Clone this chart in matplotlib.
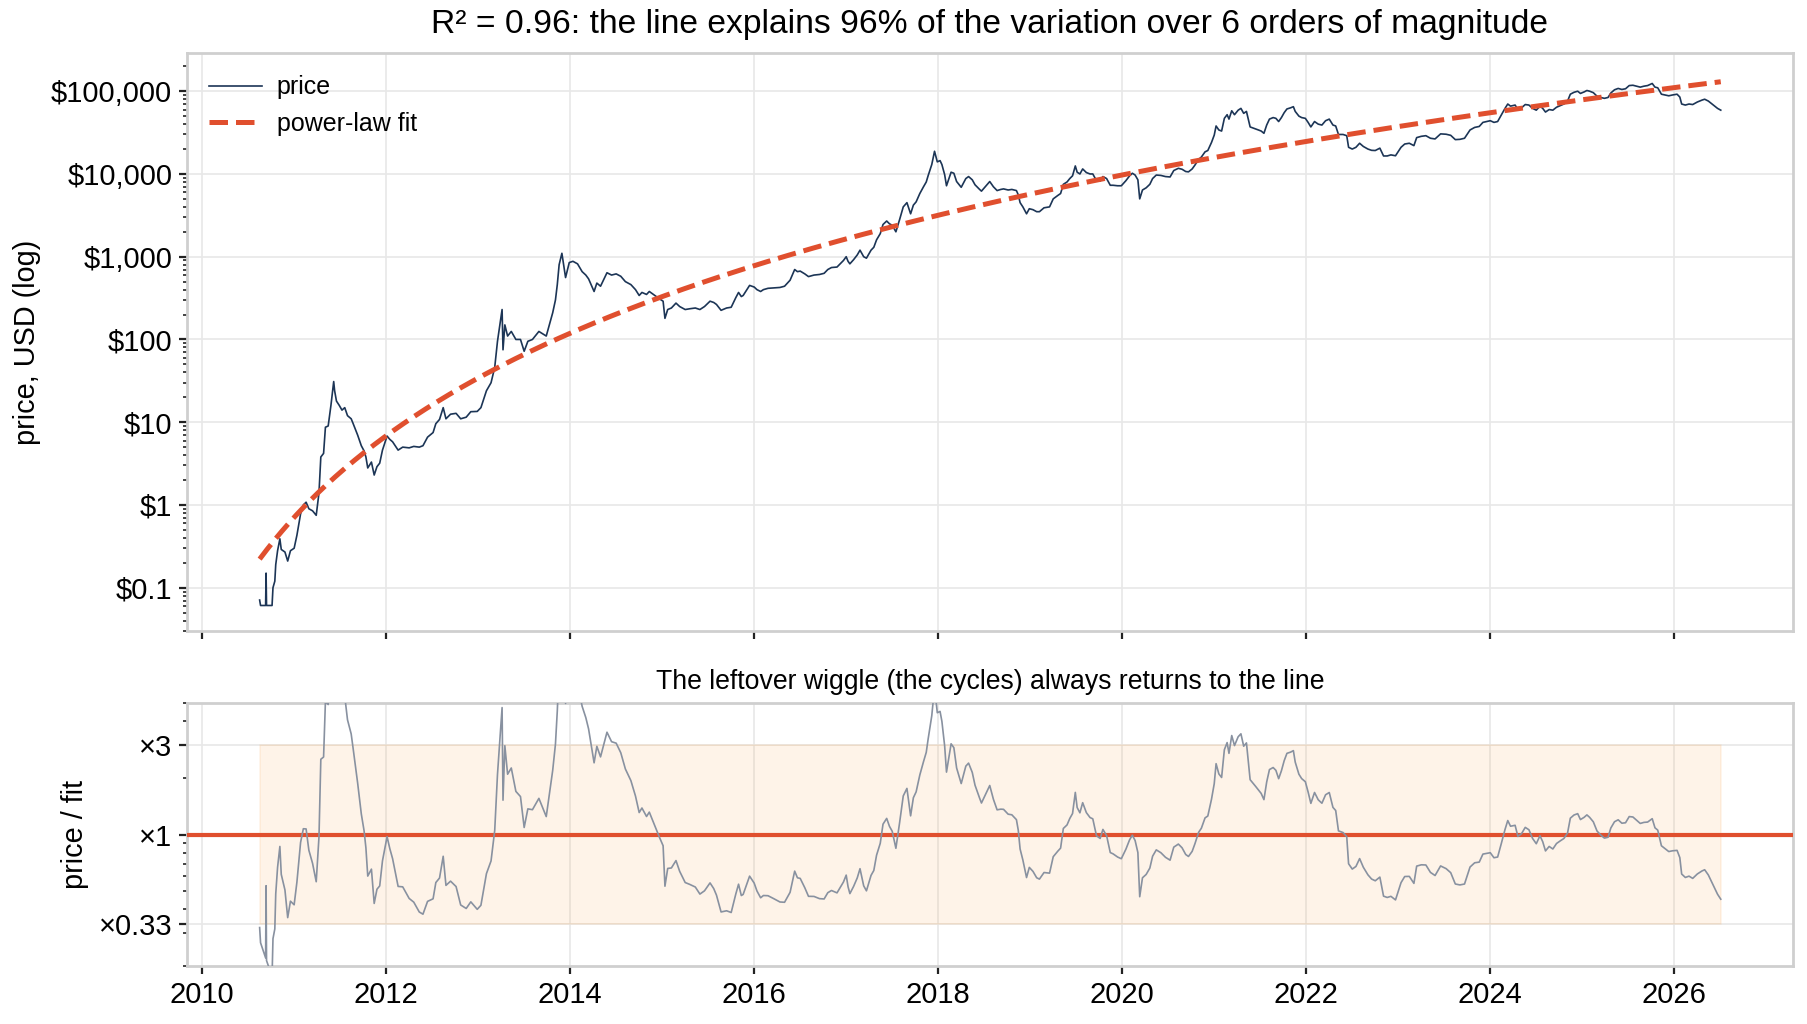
import numpy as np
import matplotlib
matplotlib.use("Agg")
import matplotlib.pyplot as plt
from matplotlib.ticker import FixedLocator, FixedFormatter, LogLocator, NullFormatter, FuncFormatter

plt.rcParams['font.family'] = ['Liberation Sans', 'DejaVu Sans']

# ---------------- data (decimal year, USD close) ----------------
date_yr = [
    2010.625, 2010.635, 2010.69, 2010.695, 2010.70, 2010.76, 2010.77, 2010.79, 2010.80, 2010.82, 2010.845, 2010.86, 2010.90, 2010.93, 2010.96,
    2011.00, 2011.03, 2011.07, 2011.10, 2011.13, 2011.16, 2011.20, 2011.24, 2011.27, 2011.29, 2011.32, 2011.34, 2011.37, 2011.40, 2011.43, 2011.44, 2011.46, 2011.49, 2011.52, 2011.55, 2011.58, 2011.62, 2011.64, 2011.69, 2011.73, 2011.76, 2011.78, 2011.80, 2011.84, 2011.87, 2011.90, 2011.93, 2011.96,
    2012.01, 2012.04, 2012.07, 2012.13, 2012.18, 2012.25, 2012.30, 2012.36, 2012.40, 2012.45, 2012.51, 2012.54, 2012.58, 2012.62, 2012.65, 2012.70, 2012.76, 2012.81, 2012.87, 2012.92, 2012.99,
    2013.03, 2013.09, 2013.14, 2013.18, 2013.21, 2013.24, 2013.26, 2013.27, 2013.29, 2013.32, 2013.36, 2013.41, 2013.46, 2013.50, 2013.54, 2013.59, 2013.66, 2013.74, 2013.77, 2013.81, 2013.84, 2013.86, 2013.88, 2013.91, 2013.93, 2013.95, 2013.99,
    2014.03, 2014.08, 2014.13, 2014.17, 2014.20, 2014.26, 2014.29, 2014.33, 2014.40, 2014.45, 2014.50, 2014.55, 2014.60, 2014.66, 2014.71, 2014.75, 2014.78, 2014.83, 2014.86, 2014.92, 2014.97,
    2015.01, 2015.03, 2015.06, 2015.10, 2015.15, 2015.19, 2015.25, 2015.30, 2015.36, 2015.41, 2015.46, 2015.52, 2015.56, 2015.59, 2015.64, 2015.70, 2015.75, 2015.80, 2015.83, 2015.86, 2015.88, 2015.92, 2015.95,
    2016.00, 2016.03, 2016.07, 2016.10, 2016.15, 2016.21, 2016.28, 2016.33, 2016.39, 2016.44, 2016.47, 2016.50, 2016.55, 2016.59, 2016.65, 2016.71, 2016.76, 2016.80, 2016.84, 2016.90, 2016.97,
    2017.00, 2017.02, 2017.04, 2017.08, 2017.12, 2017.15, 2017.19, 2017.22, 2017.27, 2017.30, 2017.33, 2017.37, 2017.40, 2017.44, 2017.47, 2017.50, 2017.54, 2017.58, 2017.62, 2017.66, 2017.70, 2017.73, 2017.76, 2017.80, 2017.84, 2017.87, 2017.89, 2017.93, 2017.96, 2017.99,
    2018.02, 2018.04, 2018.07, 2018.09, 2018.14, 2018.17, 2018.20, 2018.25, 2018.30, 2018.33, 2018.37, 2018.40, 2018.45, 2018.47, 2018.53, 2018.56, 2018.60, 2018.64, 2018.68, 2018.71, 2018.76, 2018.80, 2018.85, 2018.87, 2018.89, 2018.92, 2018.96, 2018.99,
    2019.03, 2019.07, 2019.10, 2019.15, 2019.21, 2019.25, 2019.30, 2019.33, 2019.36, 2019.40, 2019.43, 2019.46, 2019.49, 2019.51, 2019.54, 2019.57, 2019.61, 2019.65, 2019.68, 2019.72, 2019.76, 2019.79, 2019.83, 2019.87, 2019.90, 2019.95, 2019.99,
    2020.04, 2020.08, 2020.11, 2020.14, 2020.17, 2020.19, 2020.22, 2020.26, 2020.30, 2020.33, 2020.37, 2020.42, 2020.47, 2020.52, 2020.56, 2020.61, 2020.65, 2020.69, 2020.72, 2020.76, 2020.79, 2020.83, 2020.86, 2020.90, 2020.93, 2020.97,
    2021.00, 2021.02, 2021.05, 2021.08, 2021.11, 2021.14, 2021.16, 2021.19, 2021.22, 2021.26, 2021.29, 2021.32, 2021.35, 2021.37, 2021.39, 2021.42, 2021.45, 2021.48, 2021.51, 2021.54, 2021.57, 2021.60, 2021.64, 2021.67, 2021.70, 2021.73, 2021.76, 2021.79, 2021.83, 2021.86, 2021.88, 2021.92, 2021.95, 2021.99,
    2022.02, 2022.05, 2022.09, 2022.13, 2022.17, 2022.21, 2022.25, 2022.29, 2022.32, 2022.35, 2022.40, 2022.44, 2022.46, 2022.50, 2022.54, 2022.58, 2022.62, 2022.67, 2022.71, 2022.75, 2022.80, 2022.84, 2022.88, 2022.92, 2022.97,
    2023.03, 2023.07, 2023.12, 2023.17, 2023.20, 2023.25, 2023.30, 2023.35, 2023.40, 2023.46, 2023.52, 2023.57, 2023.62, 2023.67, 2023.72, 2023.78, 2023.83, 2023.88, 2023.92, 2023.96,
    2024.00, 2024.04, 2024.08, 2024.12, 2024.16, 2024.19, 2024.22, 2024.27, 2024.30, 2024.34, 2024.38, 2024.42, 2024.46, 2024.50, 2024.54, 2024.57, 2024.60, 2024.64, 2024.68, 2024.72, 2024.76, 2024.80, 2024.84, 2024.87, 2024.91, 2024.95, 2024.98,
    2025.02, 2025.05, 2025.08, 2025.12, 2025.16, 2025.20, 2025.24, 2025.28, 2025.31, 2025.35, 2025.39, 2025.43, 2025.47, 2025.51, 2025.55, 2025.59, 2025.63, 2025.67, 2025.71, 2025.76, 2025.79, 2025.82, 2025.86, 2025.90, 2025.94, 2025.98,
    2026.03, 2026.06, 2026.08, 2026.12, 2026.16, 2026.20, 2026.25, 2026.30, 2026.33, 2026.37, 2026.41, 2026.44, 2026.47, 2026.505,
]
price_usd = [
    0.071, 0.061, 0.061, 0.15, 0.061, 0.061, 0.10, 0.12, 0.19, 0.28, 0.39, 0.29, 0.27, 0.21, 0.28,
    0.30, 0.43, 0.78, 1.0, 1.08, 0.9, 0.85, 0.75, 1.4, 3.8, 4.2, 8.7, 9.0, 16, 31, 24, 18, 16, 14, 15, 12, 11, 9.7, 7.0, 5.2, 4.5, 3.8, 2.8, 3.3, 2.3, 2.9, 3.2, 4.6,
    6.8, 6.2, 5.8, 4.6, 5.0, 4.9, 5.1, 5.0, 5.2, 6.6, 7.5, 9.6, 10.8, 15, 11, 12.5, 12.8, 11, 11.5, 13.4, 13.5,
    15, 24, 30, 46, 95, 160, 230, 75, 150, 110, 125, 100, 100, 72, 95, 100, 125, 110, 145, 210, 300, 460, 800, 1100, 780, 560, 850,
    880, 820, 660, 600, 540, 380, 480, 440, 640, 600, 620, 580, 500, 460, 400, 340, 370, 350, 380, 340, 310,
    290, 180, 230, 240, 275, 250, 230, 235, 240, 230, 250, 290, 280, 265, 225, 240, 245, 320, 370, 330, 340, 400, 450,
    430, 400, 380, 400, 415, 420, 425, 440, 520, 700, 660, 670, 620, 575, 600, 610, 630, 700, 740, 750, 900,
    1000, 880, 820, 920, 1050, 1200, 1000, 960, 1200, 1300, 1600, 1900, 2450, 2700, 2500, 2400, 2000, 2800, 4000, 4500, 3300, 4200, 4600, 5800, 7000, 8000, 9500, 13000, 18800, 14000,
    14500, 13000, 9800, 7200, 10500, 10200, 8100, 6900, 8800, 9300, 8500, 7400, 6500, 6200, 7400, 8100, 7000, 6300, 6500, 6600, 6400, 6500, 6300, 5600, 4500, 4000, 3300, 3800,
    3700, 3500, 3500, 3900, 4000, 5000, 5500, 5800, 7500, 8000, 8800, 9500, 12500, 10500, 10000, 11500, 10400, 10000, 10000, 8300, 8200, 9300, 8800, 7300, 7300, 7200, 7200,
    8300, 9500, 10200, 9700, 8500, 5000, 6400, 6800, 7500, 8800, 9700, 9600, 9300, 9200, 11000, 11700, 11400, 10700, 10600, 11500, 12800, 15000, 16000, 18500, 19200, 24000,
    29500, 38000, 34000, 33000, 47000, 52000, 46000, 58000, 52000, 59000, 62000, 54000, 57000, 46000, 37000, 36000, 35000, 34000, 33000, 31000, 39000, 46000, 48000, 47000, 43000, 48000, 55000, 61000, 63000, 65000, 57000, 50000, 48000, 47000,
    42000, 37000, 43000, 40000, 39000, 44000, 46000, 39000, 38000, 30000, 30000, 29000, 21000, 20000, 21000, 23500, 21500, 20000, 19300, 19200, 20500, 16500, 16500, 17000, 16600,
    21000, 23000, 23500, 22000, 27500, 28500, 29000, 27000, 26500, 30500, 30200, 29300, 26000, 26200, 27000, 34000, 36500, 37500, 42000, 43000,
    44000, 42000, 43000, 51500, 62000, 70000, 66000, 68000, 60000, 63000, 69000, 68000, 62000, 59000, 66000, 62000, 56000, 60000, 59000, 64000, 67000, 70000, 76000, 92000, 97000, 100000, 94000,
    98000, 102000, 100000, 96000, 87000, 84000, 82000, 84000, 95000, 104000, 108000, 105000, 107000, 117000, 118000, 115000, 112000, 115000, 117000, 124000, 112000, 110000, 92000, 90000, 88000, 90000,
    92000, 85000, 70000, 68000, 70000, 69000, 74000, 78000, 80000, 76000, 70000, 66000, 62000, 59000,
]

price_ticks = [0.1, 1, 10, 100, 1000, 10000, 100000]
price_tick_labels = ["$0.1", "$1", "$10", "$100", "$1,000", "$10,000", "$100,000"]
ratio_ticks = [1 / 3, 1, 3]
ratio_tick_labels = ["\u00d70.33", "\u00d71", "\u00d73"]
year_ticks = [2010, 2012, 2014, 2016, 2018, 2020, 2022, 2024, 2026]

# ---------------- power-law fit (log price vs log days since genesis) ----------------
dates = np.array(date_yr)
prices = np.array(price_usd)
genesis = 2009.0 + 2 / 365.25
days = (dates - genesis) * 365.25
grid = np.arange(days[0], days[-1], 1.0)
logp = np.interp(grid, days, np.log10(prices))
slope, icpt = np.polyfit(np.log10(grid), logp, 1)


def fit_fn(yr):
    return 10 ** (icpt + slope * np.log10((np.asarray(yr) - genesis) * 365.25))


fit_x = np.linspace(dates[0], dates[-1], 600)
fit_y = fit_fn(fit_x)
ratio = prices / fit_fn(dates)

# ---------------- styling ----------------
NAVY = "#1c3556"
ORANGE = "#e04f2e"
GREY = "#8891a0"
SPINE = "#cfcfcf"
GRID = "#e8e8e8"

fig = plt.figure(figsize=(9.04, 5.12), dpi=200)
ax1 = fig.add_axes([0.1034, 0.3838, 0.8883, 0.5645])
ax2 = fig.add_axes([0.1034, 0.0566, 0.8883, 0.2568])

xlim = (2009.835, 2027.29)


def style(ax):
    for s in ax.spines.values():
        s.set_color(SPINE)
        s.set_linewidth(1.0)
    ax.tick_params(axis='both', which='major', direction='out', length=2.8, width=0.8,
                   color='#222222', labelsize=10.5, pad=2.5)
    ax.tick_params(axis='both', which='minor', direction='out', length=1.5, width=0.6,
                   color='#222222')
    ax.grid(True, which='major', color=GRID, linewidth=0.6)
    ax.set_axisbelow(True)
    ax.set_xlim(*xlim)
    ax.xaxis.set_major_locator(FixedLocator(year_ticks))


# top panel
ax1.plot(dates, prices, color=NAVY, lw=0.6, label="price", zorder=3)
ax1.plot(fit_x, fit_y, color=ORANGE, lw=1.8, ls="--", label="power-law fit", zorder=4)
ax1.set_yscale("log")
ax1.set_ylim(0.03, 2.9e5)
style(ax1)
ax1.yaxis.set_major_locator(FixedLocator(price_ticks))
ax1.yaxis.set_major_formatter(FixedFormatter(price_tick_labels))
ax1.yaxis.set_minor_locator(LogLocator(base=10, subs=np.arange(2, 10), numticks=20))
ax1.yaxis.set_minor_formatter(NullFormatter())
ax1.tick_params(axis='x', labelbottom=False)
ax1.set_ylabel("price, USD (log)", fontsize=10.4, labelpad=3.5)
ax1.set_title("R\u00b2 = 0.96: the line explains 96% of the variation over 6 orders of magnitude",
              fontsize=12.1, pad=7)
ax1.legend(loc="upper left", frameon=False, fontsize=9, handlelength=2.1,
           borderaxespad=0.5, labelspacing=0.5, handletextpad=0.6)

# bottom panel
ax2.fill_between([dates[0], dates[-1]], 1 / 3, 3, color="#f7a449", alpha=0.12, lw=0.6,
                 edgecolor="#f7a449", zorder=1)
ax2.axhline(1, color=ORANGE, lw=1.5, zorder=3)
ax2.plot(dates, ratio, color=GREY, lw=0.6, zorder=4)
ax2.set_yscale("log")
ax2.set_ylim(0.2, 5.0)
style(ax2)
ax2.yaxis.set_major_locator(FixedLocator(ratio_ticks))
ax2.yaxis.set_major_formatter(FixedFormatter(ratio_tick_labels))
ax2.yaxis.set_minor_locator(LogLocator(base=10, subs=np.arange(2, 10), numticks=20))
ax2.yaxis.set_minor_formatter(NullFormatter())
ax2.xaxis.set_major_formatter(FuncFormatter(lambda v, p: f"{int(round(v))}"))
ax2.set_ylabel("price / fit", fontsize=10.4, labelpad=3.5)
ax2.set_title("The leftover wiggle (the cycles) always returns to the line", fontsize=9.6, pad=5)

fig.savefig("out.png", dpi=200)
